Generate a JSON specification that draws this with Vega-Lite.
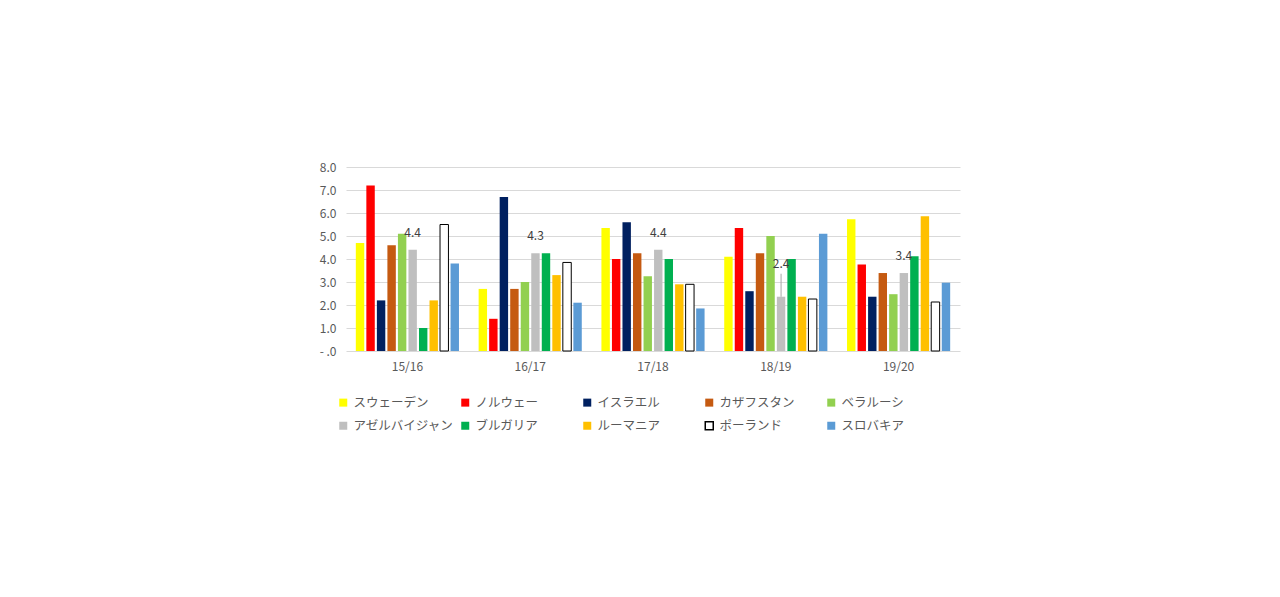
{
  "$schema": "https://vega.github.io/schema/vega-lite/v6.json",
  "width": 614,
  "height": 184,
  "autosize": {"type": "none"},
  "padding": {"left": 346, "top": 167, "right": 320, "bottom": 246},
  "background": "#ffffff",
  "data": {
    "values": [
      {"period": "15/16", "country": "スウェーデン", "value": 4.7},
      {"period": "15/16", "country": "ノルウェー", "value": 7.2},
      {"period": "15/16", "country": "イスラエル", "value": 2.2},
      {"period": "15/16", "country": "カザフスタン", "value": 4.6},
      {"period": "15/16", "country": "ベラルーシ", "value": 5.1},
      {"period": "15/16", "country": "アゼルバイジャン", "value": 4.4},
      {"period": "15/16", "country": "ブルガリア", "value": 1.0},
      {"period": "15/16", "country": "ルーマニア", "value": 2.2},
      {"period": "15/16", "country": "ポーランド", "value": 5.5},
      {"period": "15/16", "country": "スロバキア", "value": 3.8},
      {"period": "16/17", "country": "スウェーデン", "value": 2.7},
      {"period": "16/17", "country": "ノルウェー", "value": 1.4},
      {"period": "16/17", "country": "イスラエル", "value": 6.7},
      {"period": "16/17", "country": "カザフスタン", "value": 2.7},
      {"period": "16/17", "country": "ベラルーシ", "value": 3.0},
      {"period": "16/17", "country": "アゼルバイジャン", "value": 4.25},
      {"period": "16/17", "country": "ブルガリア", "value": 4.25},
      {"period": "16/17", "country": "ルーマニア", "value": 3.3},
      {"period": "16/17", "country": "ポーランド", "value": 3.85},
      {"period": "16/17", "country": "スロバキア", "value": 2.1},
      {"period": "17/18", "country": "スウェーデン", "value": 5.35},
      {"period": "17/18", "country": "ノルウェー", "value": 4.0},
      {"period": "17/18", "country": "イスラエル", "value": 5.6},
      {"period": "17/18", "country": "カザフスタン", "value": 4.25},
      {"period": "17/18", "country": "ベラルーシ", "value": 3.25},
      {"period": "17/18", "country": "アゼルバイジャン", "value": 4.4},
      {"period": "17/18", "country": "ブルガリア", "value": 4.0},
      {"period": "17/18", "country": "ルーマニア", "value": 2.9},
      {"period": "17/18", "country": "ポーランド", "value": 2.9},
      {"period": "17/18", "country": "スロバキア", "value": 1.85},
      {"period": "18/19", "country": "スウェーデン", "value": 4.1},
      {"period": "18/19", "country": "ノルウェー", "value": 5.35},
      {"period": "18/19", "country": "イスラエル", "value": 2.6},
      {"period": "18/19", "country": "カザフスタン", "value": 4.25},
      {"period": "18/19", "country": "ベラルーシ", "value": 5.0},
      {"period": "18/19", "country": "アゼルバイジャン", "value": 2.36},
      {"period": "18/19", "country": "ブルガリア", "value": 4.0},
      {"period": "18/19", "country": "ルーマニア", "value": 2.36},
      {"period": "18/19", "country": "ポーランド", "value": 2.26},
      {"period": "18/19", "country": "スロバキア", "value": 5.1},
      {"period": "19/20", "country": "スウェーデン", "value": 5.73},
      {"period": "19/20", "country": "ノルウェー", "value": 3.76},
      {"period": "19/20", "country": "イスラエル", "value": 2.36},
      {"period": "19/20", "country": "カザフスタン", "value": 3.39},
      {"period": "19/20", "country": "ベラルーシ", "value": 2.47},
      {"period": "19/20", "country": "アゼルバイジャン", "value": 3.39},
      {"period": "19/20", "country": "ブルガリア", "value": 4.12},
      {"period": "19/20", "country": "ルーマニア", "value": 5.86},
      {"period": "19/20", "country": "ポーランド", "value": 2.13},
      {"period": "19/20", "country": "スロバキア", "value": 2.97}
    ]
  },
  "encoding": {
    "x": {
      "field": "period",
      "type": "nominal",
      "title": null,
      "scale": {"paddingInner": 0.16, "paddingOuter": 0.08},
      "axis": {"labelAngle": 0, "domain": false, "ticks": false, "labelPadding": 10, "labelFontSize": 12}
    },
    "xOffset": {
      "field": "country",
      "type": "nominal",
      "sort": ["スウェーデン", "ノルウェー", "イスラエル", "カザフスタン", "ベラルーシ", "アゼルバイジャン", "ブルガリア", "ルーマニア", "ポーランド", "スロバキア"],
      "scale": {"paddingInner": 0.2, "paddingOuter": 0}
    },
    "y": {
      "field": "value",
      "type": "quantitative",
      "title": null,
      "scale": {"domain": [0, 8], "nice": false},
      "axis": {
        "values": [0, 1, 2, 3, 4, 5, 6, 7, 8],
        "domain": false,
        "ticks": false,
        "labelPadding": 10,
        "labelFontSize": 12,
        "labelExpr": "datum.value == 0 ? '-   .0' : format(datum.value, '.1f')"
      }
    }
  },
  "layer": [
    {
      "mark": {"type": "bar", "strokeWidth": 1},
      "encoding": {
        "color": {
          "field": "country",
          "type": "nominal",
          "sort": ["スウェーデン", "ノルウェー", "イスラエル", "カザフスタン", "ベラルーシ", "アゼルバイジャン", "ブルガリア", "ルーマニア", "ポーランド", "スロバキア"],
          "scale": {
            "domain": ["スウェーデン", "ノルウェー", "イスラエル", "カザフスタン", "ベラルーシ", "アゼルバイジャン", "ブルガリア", "ルーマニア", "ポーランド", "スロバキア"],
            "range": ["#FFFF00", "#FF0000", "#002060", "#C55A11", "#92D050", "#BFBFBF", "#00B050", "#FFC000", "#FFFFFF", "#5B9BD5"]
          },
          "legend": {
            "title": null,
            "orient": "none",
            "legendX": -9,
            "legendY": 229,
            "direction": "horizontal",
            "columns": 5,
            "gridAlign": "all",
            "columnPadding": 4,
            "rowPadding": 8.5,
            "padding": 0,
            "symbolType": "square",
            "symbolSize": 64,
            "labelOffset": 4,
            "labelFontSize": 12.5,
            "labelLimit": 200
          }
        },
        "stroke": {
          "field": "country",
          "type": "nominal",
          "scale": {
            "domain": ["スウェーデン", "ノルウェー", "イスラエル", "カザフスタン", "ベラルーシ", "アゼルバイジャン", "ブルガリア", "ルーマニア", "ポーランド", "スロバキア"],
            "range": ["transparent", "transparent", "transparent", "transparent", "transparent", "transparent", "transparent", "transparent", "#000000", "transparent"]
          },
          "legend": {
            "title": null,
            "orient": "none",
            "legendX": -9,
            "legendY": 229,
            "direction": "horizontal",
            "columns": 5,
            "gridAlign": "all",
            "columnPadding": 4,
            "rowPadding": 8.5,
            "padding": 0,
            "symbolType": "square",
            "symbolSize": 64,
            "labelOffset": 4,
            "labelFontSize": 12.5,
            "labelLimit": 200
          }
        }
      }
    },
    {
      "transform": [
        {"filter": "datum.country == 'アゼルバイジャン' && datum.period != '18/19'"}
      ],
      "mark": {"type": "text", "dy": -17, "baseline": "middle", "fontSize": 12, "color": "#404040"},
      "encoding": {
        "text": {"field": "value", "type": "quantitative", "format": ".1f"}
      }
    },
    {
      "transform": [
        {"filter": "datum.country == 'アゼルバイジャン' && datum.period == '18/19'"}
      ],
      "mark": {"type": "text", "dy": -33, "baseline": "middle", "fontSize": 12, "color": "#404040"},
      "encoding": {
        "text": {"field": "value", "type": "quantitative", "format": ".1f"}
      }
    },
    {
      "transform": [
        {"filter": "datum.country == 'アゼルバイジャン' && datum.period == '18/19'"}
      ],
      "mark": {"type": "rule", "color": "#A6A6A6", "strokeWidth": 1, "y2Offset": -23},
      "encoding": {
        "y2": {"field": "value"}
      }
    }
  ],
  "config": {
    "font": "Noto Sans CJK JP",
    "view": {"stroke": null},
    "axis": {
      "gridColor": "#D9D9D9",
      "gridWidth": 1,
      "labelColor": "#595959",
      "labelFont": "Noto Sans CJK JP"
    },
    "legend": {"labelColor": "#595959", "labelFont": "Noto Sans CJK JP"},
    "text": {"font": "Noto Sans CJK JP"}
  }
}
